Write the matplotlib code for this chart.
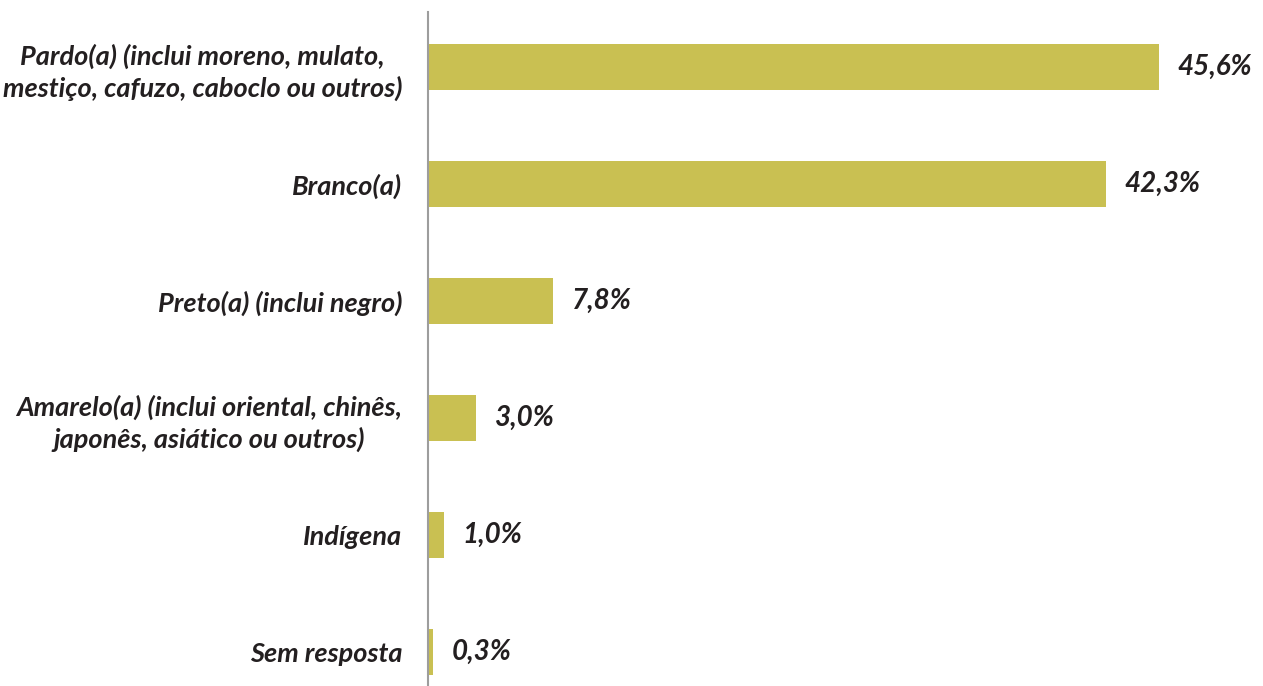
import matplotlib
matplotlib.use("Agg")
import matplotlib.pyplot as plt

categories = [
    "Pardo(a) (inclui moreno, mulato,\nmestiço, cafuzo, caboclo ou outros)",
    "Branco(a)",
    "Preto(a) (inclui negro)",
    "Amarelo(a) (inclui oriental, chinês,\njaponês, asiático ou outros)",
    "Indígena",
    "Sem resposta",
]
values = [45.6, 42.3, 7.8, 3.0, 1.0, 0.3]
value_labels = ["45,6%", "42,3%", "7,8%", "3,0%", "1,0%", "0,3%"]

BAR_COLOR = "#C9C052"
TEXT_COLOR = "#231F20"
FONT = ["Lato", "DejaVu Sans"]

fig = plt.figure(figsize=(12.63, 6.86), dpi=100)
ax = fig.add_axes([428 / 1263, 0, 835 / 1263, 674 / 686])

ypos = list(range(len(categories)))
ax.barh(ypos, values, height=0.395, color=BAR_COLOR)

ax.set_xlim(0, 835 / 16.03)
ax.set_ylim(5.29, -0.47)

for y, v, lab in zip(ypos, values, value_labels):
    ax.annotate(lab, (v, y), xytext=(13.5, 0), textcoords="offset points",
                ha="left", va="center", fontsize=20, fontweight="bold",
                fontstyle="italic", family=FONT, color=TEXT_COLOR)

ax.set_yticks(ypos)
ax.set_yticklabels(categories, fontsize=19.5, fontweight="bold",
                   fontstyle="italic", family=FONT, color=TEXT_COLOR,
                   linespacing=1.33, ha="right", multialignment="center")
ax.tick_params(axis="y", length=0, pad=18.5)
ax.set_xticks([])

for s in ["top", "right", "bottom"]:
    ax.spines[s].set_visible(False)
ax.spines["left"].set_color("#9D9D9D")
ax.spines["left"].set_linewidth(1.5)

fig.savefig("out.png", dpi=100)
